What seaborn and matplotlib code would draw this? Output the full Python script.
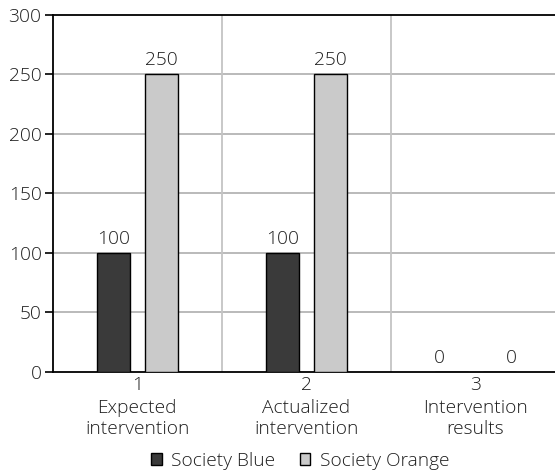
import matplotlib
matplotlib.use("Agg")
import matplotlib.pyplot as plt
import seaborn as sns
import pandas as pd

# Chart data
category_ids = ["1", "2", "3"]
category_names = ["Expected\nintervention", "Actualized\nintervention", "Intervention\nresults"]
societies = ["Society Blue", "Society Orange"]
blue_values = [100, 100, 0]
orange_values = [250, 250, 0]
y_ticks = [0, 50, 100, 150, 200, 250, 300]
colors = {"Society Blue": "#3a3a3a", "Society Orange": "#cacaca"}

df = pd.DataFrame({
    "category": category_ids * 2,
    "society": [societies[0]] * 3 + [societies[1]] * 3,
    "value": blue_values + orange_values,
})

sns.set_theme(style="white")
plt.rcParams["font.family"] = ["Open Sans", "DejaVu Sans"]
plt.rcParams["font.weight"] = "light"
FS = 13.8
TXT = "#1e1e1e"

fig = plt.figure(figsize=(5.55, 4.73), dpi=100)
ax = fig.add_axes([0.095, 0.2135, 0.9135, 0.7554])

sns.barplot(data=df, x="category", y="value", hue="society", palette=colors,
            width=0.57, edgecolor="black", linewidth=1.0, saturation=1,
            dodge=True, ax=ax, legend=False, zorder=3)

# Narrow the bars around their dodged centres
bar_w = 0.195
for p in ax.patches:
    c = p.get_x() + p.get_width() / 2
    p.set_width(bar_w)
    p.set_x(c - bar_w / 2)

# Value labels
for p in ax.patches:
    h = p.get_height()
    c = p.get_x() + p.get_width() / 2
    if h == 0:
        # spread the zero labels a little further apart
        c = 2 + (c - 2) * 1.5
    ax.text(c, h + 4, f"{h:.0f}", ha="center", va="bottom",
            fontsize=FS, color=TXT, fontweight="light")

ax.set_xlim(-0.5, 2.5)
ax.set_ylim(0, 300)
ax.set_yticks(y_ticks)
ax.set_xlabel("")
ax.set_ylabel("")

# Category descriptions under the numeric tick labels
for i, name in enumerate(category_names):
    ax.annotate(name, xy=(i, 0), xycoords="data", xytext=(0, -19.5),
                textcoords="offset points", ha="center", va="top",
                fontsize=FS, color=TXT, fontweight="light", linespacing=1.2,
                annotation_clip=False)

# Grid: horizontal at y ticks, vertical at category boundaries
for y in y_ticks[1:-1]:
    ax.axhline(y, color="#b4b4b4", lw=1.3, zorder=1)
for x in [0.5, 1.5]:
    ax.axvline(x, color="#c4c4c4", lw=1.3, zorder=1)

for side in ["left", "top", "bottom"]:
    ax.spines[side].set_color("black")
    ax.spines[side].set_linewidth(1.3)
ax.spines["right"].set_visible(False)

ax.tick_params(axis="y", which="major", left=True, length=6, width=1.2,
               color="black", labelsize=FS, labelcolor=TXT, pad=2)
ax.tick_params(axis="x", bottom=False, labelsize=FS, labelcolor=TXT, pad=-3)
for lbl in ax.get_xticklabels() + ax.get_yticklabels():
    lbl.set_fontweight("light")

handles = [plt.Rectangle((0, 0), 1, 1, facecolor=colors[s], edgecolor="black", lw=1)
           for s in societies]
fig.legend(handles, societies, loc="center", bbox_to_anchor=(0.541, 0.026),
           ncol=2, frameon=False, prop={"size": FS, "weight": "light"},
           handlelength=0.57, handleheight=0.57, handletextpad=0.5,
           columnspacing=1.25, labelcolor=TXT)

fig.savefig("out.png", dpi=100)
